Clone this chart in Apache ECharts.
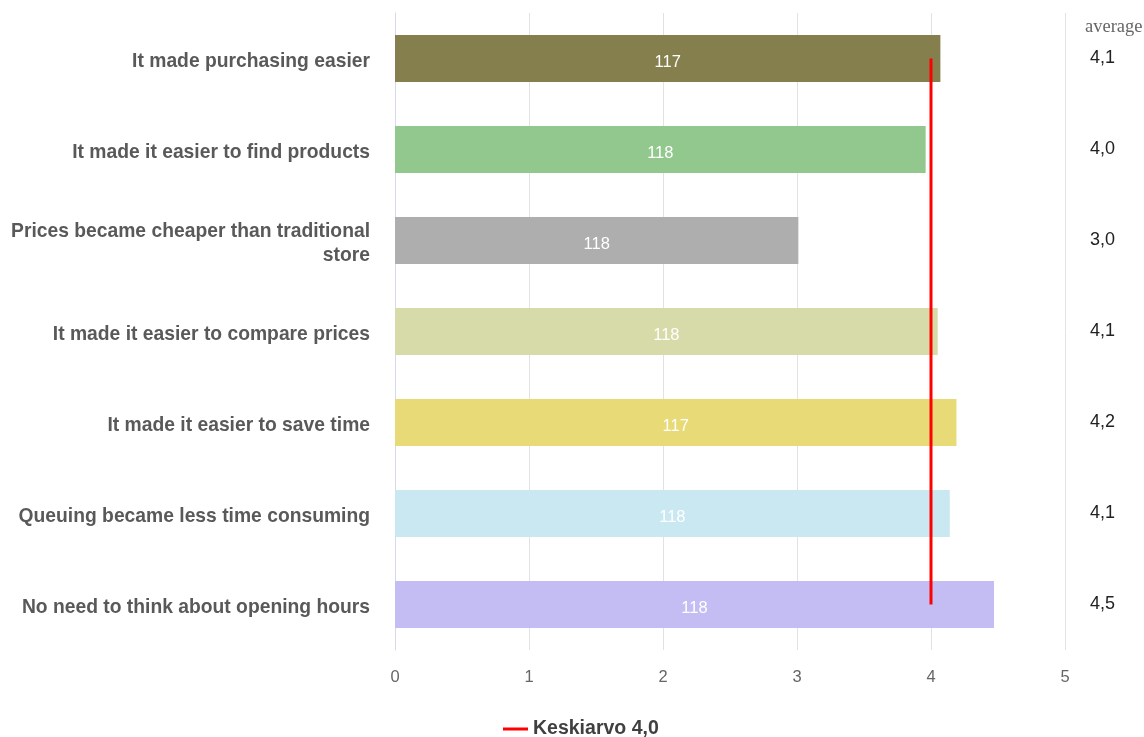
<!DOCTYPE html>
<html>
<head>
<meta charset="utf-8">
<script src="https://cdn.jsdelivr.net/npm/echarts@6/dist/echarts.min.js"></script>
<style>
html,body{margin:0;padding:0;background:#fff;}
#chart{width:1144px;height:737px;}
</style>
</head>
<body>
<div id="chart"></div>
<script>
const categories = [
  "It made purchasing easier",
  "It made it easier to find products",
  "Prices became cheaper than traditional\nstore",
  "It made it easier to compare prices",
  "It made it easier to save time",
  "Queuing became less time consuming",
  "No need to think about opening hours"
];
const barValues = [4.07, 3.96, 3.01, 4.05, 4.19, 4.14, 4.47];
const counts = [117, 118, 118, 118, 117, 118, 118];
const averageLabels = ["4,1", "4,0", "3,0", "4,1", "4,2", "4,1", "4,5"];
const barColors = ["#857F4E", "#92C88E", "#AEAEAE", "#D7DBA9", "#E7DA77", "#C9E8F2", "#C4BDF3"];
const meanValue = 4.0;
const meanName = "Keskiarvo 4,0";
const xTicks = [0, 1, 2, 3, 4, 5];

const chart = echarts.init(document.getElementById('chart'));
chart.setOption({
  animation: false,
  backgroundColor: '#fff',
  title: {
    text: 'average',
    left: 1080, top: 13,
    textStyle: { fontFamily: 'Liberation Serif, serif', fontSize: 18.5, fontWeight: 'normal', color: '#666' }
  },
  legend: {
    data: [{ name: meanName, icon: 'rect' }],
    left: 498, top: 714,
    itemWidth: 25, itemHeight: 3, itemGap: 8,
    textStyle: { fontFamily: 'Liberation Sans, Arial', fontSize: 19.5, fontWeight: 'bold', color: '#404040' }
  },
  grid: { left: 395, right: 79, top: 13, bottom: 87, containLabel: false },
  xAxis: {
    type: 'value', min: xTicks[0], max: xTicks[xTicks.length - 1], interval: 1,
    axisLine: { show: false }, axisTick: { show: false },
    splitLine: { show: true, lineStyle: { color: '#E2E2E2', width: 1 } },
    axisLabel: { margin: 19, fontFamily: 'Liberation Sans, Arial', fontSize: 16.5, color: '#666' }
  },
  yAxis: [
    {
      type: 'category', data: categories, inverse: true,
      axisLine: { show: true, lineStyle: { color: '#D3DAEB', width: 1 } },
      axisTick: { show: false },
      axisLabel: {
        margin: 25, align: 'right',
        formatter: v => v.split('\n').map(s => '{a|' + s + '}').join('\n'),
        rich: {
          a: { fontFamily: 'Liberation Sans, Arial', fontSize: 19.3, fontWeight: 'bold', color: '#595959', lineHeight: 24, padding: [6, 0, 0, 0], align: 'right' }
        }
      }
    },
    {
      type: 'category', data: averageLabels, inverse: true, position: 'right',
      axisLine: { show: false }, axisTick: { show: false },
      axisLabel: { margin: 25, fontFamily: 'Liberation Sans, Arial', fontSize: 18, color: '#222' }
    }
  ],
  series: [
    {
      type: 'bar', yAxisIndex: 0, barWidth: 47,
      data: barValues.map((v, i) => ({ value: v, itemStyle: { color: barColors[i] } })),
      label: {
        show: true, position: 'inside', offset: [0, 4],
        formatter: p => String(counts[p.dataIndex]),
        fontFamily: 'Liberation Sans, Arial', fontSize: 16.5, color: '#fff'
      }
    },
    {
      type: 'line', name: meanName, yAxisIndex: 0,
      data: categories.map((c, i) => [meanValue, i]),
      showSymbol: false, symbol: 'none',
      lineStyle: { color: '#FF0000', width: 3 },
      itemStyle: { color: '#FF0000' },
      z: 5
    }
  ]
});
</script>
</body>
</html>
